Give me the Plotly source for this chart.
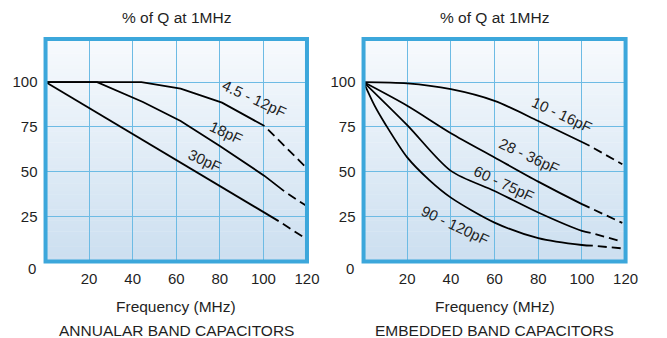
import plotly.graph_objects as go

# ---- data (x = frequency MHz, y = % of Q at 1MHz) ----
# left panel: annular band capacitors
ann_labels = ["4.5 - 12pF", "18pF", "30pF"]
ann_x = [[0, 44, 62, 81, 100.5], [0, 23.7, 44.7, 62, 80, 100.5, 109.5], [0, 107]]
ann_y = [[100, 100, 96.3, 88.5, 75.5], [100, 100, 88.9, 78.3, 64.4, 47.7, 39.2], [100, 22.5]]
ann_dash_x = [[100.5, 119.7], [109.5, 119.7], [107, 119.7]]
ann_dash_y = [[75.5, 52.3], [39.2, 31.0], [22.5, 12.5]]
ann_lab_pos = [(95.7, 90.7), (83, 71.8), (73.2, 56.5)]

# right panel: embedded band capacitors
emb_labels = ["10 - 16pF", "28 - 36pF", "60 - 75pF", "90 - 120pF"]
emb_x = [[0, 20, 40, 60, 80, 100, 103.5],
         [0, 20, 40, 60, 80, 100, 103.5],
         [0, 20, 40, 60, 80, 100, 104],
         [0, 5, 10, 20, 30, 40, 60, 80, 100, 105]]
emb_y = [[100, 99.3, 96, 89.5, 78.3, 66.6, 64.5],
         [100, 86.8, 71.5, 58, 44.5, 32, 30],
         [100, 76, 50.5, 39.3, 27.3, 17.1, 16],
         [100, 87, 76.5, 58, 45.5, 35.6, 21.7, 13, 9.2, 8.8]]
emb_dash_x = [[103.5, 118.5], [103.5, 118.5], [104, 118.5], [105, 118.5]]
emb_dash_y = [[64.5, 54.2], [30, 21.5], [16, 11], [8.8, 7.3]]
emb_lab_pos = [(90.9, 82), (75.6, 58.8), (64.4, 43.6), (42.3, 20.3)]

x_ticks = [20, 40, 60, 80, 100, 120]
y_ticks = [25, 50, 75, 100]
panel_titles = ["ANNUALAR BAND CAPACITORS", "EMBEDDED BAND CAPACITORS"]

FONT = "Liberation Sans, Arial, sans-serif"
TXT = "#1f1f1f"
BORDER = "#3ca7db"
GRID = "#6dbbe4"

# the page body has an 8px default margin, so the figure is drawn 8px in
OFF = 8
W, H = 667 - OFF, 338 - OFF

fig = go.Figure()

dash_pat = "0px,5px,9px,0px"


def add_panel(xs, ys, dxs, dys, xa, ya, shape):
    for x, y, dx, dy in zip(xs, ys, dxs, dys):
        fig.add_trace(go.Scatter(x=x, y=y, mode="lines", xaxis=xa, yaxis=ya,
                                 line=dict(color="black", width=1.8, shape=shape, smoothing=0.8),
                                 showlegend=False, hoverinfo="skip"))
        fig.add_trace(go.Scatter(x=dx, y=dy, mode="lines", xaxis=xa, yaxis=ya,
                                 line=dict(color="black", width=1.8, dash=dash_pat),
                                 showlegend=False, hoverinfo="skip"))


add_panel(ann_x, ann_y, ann_dash_x, ann_dash_y, "x", "y", "linear")
add_panel(emb_x, emb_y, emb_dash_x, emb_dash_y, "x2", "y2", "spline")

# pixel geometry of the two plot boxes (page pixels)
left_px = (46.3 - OFF, 313.0 - OFF)
right_px = (370.7 - OFF, 638.0 - OFF)
top_px, bot_px = 39.0 - OFF, 261.5 - OFF

axis_common = dict(range=[0, 120], tickvals=x_ticks, showgrid=True, gridcolor=GRID, gridwidth=1.3,
                   zeroline=False, showline=False, ticks="", ticklabelstandoff=6,
                   tickfont=dict(family=FONT, size=15, color=TXT), fixedrange=True)
yaxis_common = dict(range=[0, 124], tickvals=y_ticks, showgrid=True, gridcolor=GRID, gridwidth=1.3,
                    zeroline=False, showline=False, ticks="", ticklabelstandoff=7,
                    tickfont=dict(family=FONT, size=15, color=TXT), fixedrange=True)

ydom = [1 - bot_px / H, 1 - top_px / H]
fig.update_layout(
    width=W, height=H,
    margin=dict(l=0, r=0, t=0, b=0),
    paper_bgcolor="white", plot_bgcolor="rgba(0,0,0,0)",
    xaxis=dict(domain=[left_px[0] / W, left_px[1] / W], anchor="y", **axis_common),
    yaxis=dict(domain=ydom, anchor="x", **yaxis_common),
    xaxis2=dict(domain=[right_px[0] / W, right_px[1] / W], anchor="y2", **axis_common),
    yaxis2=dict(domain=ydom, anchor="x2", **yaxis_common),
)

# vertical gradient background and thick blue frame
top_c = (247, 250, 253)
bot_c = (204, 223, 240)
n_bands = 60
shapes = []
for xr, yr in (("x domain", "y domain"), ("x2 domain", "y2 domain")):
    for i in range(n_bands):
        t = i / (n_bands - 1)
        c = tuple(round(bot_c[k] + (top_c[k] - bot_c[k]) * t) for k in range(3))
        shapes.append(dict(type="rect", xref=xr, yref=yr, x0=0, x1=1,
                           y0=i / n_bands, y1=(i + 1) / n_bands + 0.002,
                           fillcolor="rgb(%d,%d,%d)" % c, line=dict(width=0), layer="below"))
    shapes.append(dict(type="rect", xref=xr, yref=yr, x0=0, x1=1, y0=0, y1=1,
                       line=dict(color=BORDER, width=4), layer="above"))
fig.update_layout(shapes=shapes)

annotations = []
# curve labels
for (lx, ly), txt in zip(ann_lab_pos, ann_labels):
    annotations.append(dict(x=lx, y=ly, xref="x", yref="y", text=txt, showarrow=False,
                            textangle=25, font=dict(family=FONT, size=15, color=TXT)))
for (lx, ly), txt in zip(emb_lab_pos, emb_labels):
    annotations.append(dict(x=lx, y=ly, xref="x2", yref="y2", text=txt, showarrow=False,
                            textangle=25, font=dict(family=FONT, size=15, color=TXT)))

# panel texts
for (x0, x1), cap in zip((left_px, right_px), panel_titles):
    cx = (x0 + x1) / 2 / W
    for py, txt in ((18, "% of Q at 1MHz"), (306, "Frequency (MHz)"), (330, cap)):
        annotations.append(dict(x=cx, y=1 - (py - OFF) / H, xref="paper", yref="paper", text=txt,
                                xanchor="center", yanchor="middle", showarrow=False,
                                font=dict(family=FONT, size=15.5, color=TXT)))
    # the "0" label sits a little below the frame
    annotations.append(dict(x=(x0 - 8) / W, y=1 - (268 - OFF) / H, xref="paper", yref="paper",
                            text="0", xanchor="right", yanchor="middle", showarrow=False,
                            font=dict(family=FONT, size=15, color=TXT)))

fig.update_layout(annotations=annotations)

fig.write_html("out.html")
